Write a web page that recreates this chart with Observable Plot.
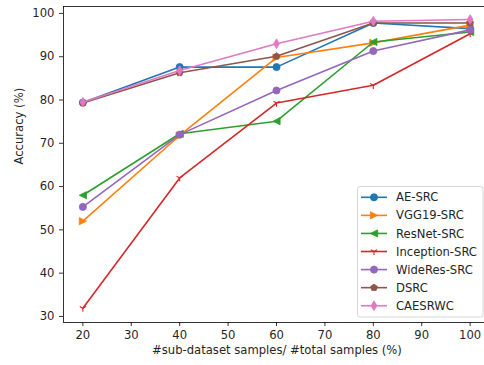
<!DOCTYPE html>
<html><head><meta charset="utf-8">
<script src="https://cdn.jsdelivr.net/npm/d3@7"></script>
<script src="https://cdn.jsdelivr.net/npm/@observablehq/plot@0.6"></script>
<style>body{margin:0;background:#fff}</style>
</head><body><div id="chart"></div>
<script>
const xValues = [20, 40, 60, 80, 100];
const seriesNames = ["AE-SRC", "VGG19-SRC", "ResNet-SRC", "Inception-SRC", "WideRes-SRC", "DSRC", "CAESRWC"];
const aeSrc = [79.4, 87.6, 87.6, 97.8, 96.5];
const vgg19Src = [52.0, 71.8, 89.8, 93.2, 97.3];
const resnetSrc = [58.0, 72.2, 75.1, 93.4, 95.7];
const inceptionSrc = [31.9, 62.0, 79.3, 83.4, 95.3];
const wideresSrc = [55.3, 72.0, 82.2, 91.3, 96.2];
const dsrc = [79.3, 86.3, 90.1, 97.8, 97.8];
const caesrwc = [79.5, 86.8, 93.0, 98.2, 98.6];
const seriesColors = ["#1f77b4", "#ff7f0e", "#2ca02c", "#d62728", "#9467bd", "#8c564b", "#e377c2"];
const xTicks = [20, 30, 40, 50, 60, 70, 80, 90, 100];
const yTicks = [30, 40, 50, 60, 70, 80, 90, 100];
const xLabel = "#sub-dataset samples/ #total samples (%)";
const yLabel = "Accuracy (%)";

const allValues = [aeSrc, vgg19Src, resnetSrc, inceptionSrc, wideresSrc, dsrc, caesrwc];
const xDomain = [16, 104];
const yDomain = [28.6, 101.6];

const mk = (f) => ({draw(ctx, size) { const r = Math.sqrt(size / Math.PI); f(ctx, r); }});
const symCircle = mk((c, r) => { c.moveTo(r, 0); c.arc(0, 0, r, 0, 2 * Math.PI); });
const symTriRight = mk((c, r) => { c.moveTo(r, 0); c.lineTo(-r, -r); c.lineTo(-r, r); c.closePath(); });
const symTriLeft = mk((c, r) => { c.moveTo(-r, 0); c.lineTo(r, -r); c.lineTo(r, r); c.closePath(); });
const symTriDown = mk((c, r) => {
  c.moveTo(0, 0); c.lineTo(0, r);
  c.moveTo(0, 0); c.lineTo(0.866 * r, -0.5 * r);
  c.moveTo(0, 0); c.lineTo(-0.866 * r, -0.5 * r);
});
const symPentagon = mk((c, r) => {
  for (let i = 0; i < 5; i++) {
    const a = -Math.PI / 2 + i * 2 * Math.PI / 5;
    const px = r * Math.cos(a), py = r * Math.sin(a);
    if (i === 0) c.moveTo(px, py); else c.lineTo(px, py);
  }
  c.closePath();
});
const symThinDiamond = mk((c, r) => {
  const h = r * 1.35, w = h * 0.6;
  c.moveTo(0, -h); c.lineTo(w, 0); c.lineTo(0, h); c.lineTo(-w, 0); c.closePath();
});
const symbols = [symCircle, symTriRight, symTriLeft, symTriDown, symCircle, symPentagon, symThinDiamond];
const filled = [true, true, true, false, true, true, true];

const data = seriesNames.map((name, i) => xValues.map((x, j) => ({series: name, x, y: allValues[i][j]})));

const marks = [];
data.forEach((rows, i) => {
  marks.push(Plot.line(rows, {x: "x", y: "y", stroke: seriesColors[i], strokeWidth: 1.6}));
  marks.push(Plot.dot(rows, {
    x: "x", y: "y", r: 3.6, symbol: symbols[i],
    fill: filled[i] ? seriesColors[i] : "none",
    stroke: seriesColors[i], strokeWidth: filled[i] ? 0.8 : 1.1
  }));
});

const FS = 11.6;
const TXT = "#262626";
const chart = Plot.plot({
  width: 484, height: 365,
  marginLeft: 63, marginRight: 0, marginTop: 6, marginBottom: 43,
  style: {fontFamily: "DejaVu Sans", fontSize: FS + "px", color: TXT, background: "#fff"},
  x: {domain: xDomain, range: [63, 489]},
  y: {domain: yDomain, range: [322, 6]},
  marks: [
    Plot.axisX({ticks: xTicks, tickSize: 4, tickPadding: 4.5, label: null, strokeWidth: 0.8, stroke: "#000"}),
    Plot.axisY({ticks: yTicks, tickSize: 4, tickPadding: 5, label: null, strokeWidth: 0.8, stroke: "#000"}),
    ...marks,
    Plot.ruleX([xDomain[0]], {stroke: "#000", strokeWidth: 0.8}),
    Plot.ruleY(yDomain, {stroke: "#000", strokeWidth: 0.8}),
    Plot.text([xLabel], {text: d => d, frameAnchor: "bottom", dy: 31, dx: 3, fontSize: FS, fill: TXT}),
    Plot.text([yLabel], {text: d => d, frameAnchor: "left", dx: -44, rotate: -90, fontSize: FS, fill: TXT})
  ]
});
document.getElementById("chart").appendChild(chart);

// legend
const svg = d3.select(chart);
const lg = svg.append("g").attr("font-family", "DejaVu Sans").attr("font-size", FS + "px").attr("text-anchor", "start");
lg.append("rect").attr("x", 357.5).attr("y", 186.5).attr("width", 125.5).attr("height", 130.5)
  .attr("rx", 2.5).attr("fill", "#fff").attr("fill-opacity", 0.8).attr("stroke", "#cccccc").attr("stroke-width", 0.8);
seriesNames.forEach((name, i) => {
  const cy = 197.3 + i * 18.07;
  lg.append("line").attr("x1", 361).attr("x2", 387).attr("y1", cy).attr("y2", cy)
    .attr("stroke", seriesColors[i]).attr("stroke-width", 1.6);
  lg.append("path").attr("transform", `translate(374,${cy})`)
    .attr("d", d3.symbol(symbols[i], Math.PI * 3.6 * 3.6)())
    .attr("fill", filled[i] ? seriesColors[i] : "none")
    .attr("stroke", seriesColors[i]).attr("stroke-width", filled[i] ? 0.8 : 1.1);
  lg.append("text").attr("x", 396).attr("y", cy).attr("dy", "0.35em").attr("fill", TXT).attr("text-anchor", "start").text(name);
});
</script>
</body></html>
